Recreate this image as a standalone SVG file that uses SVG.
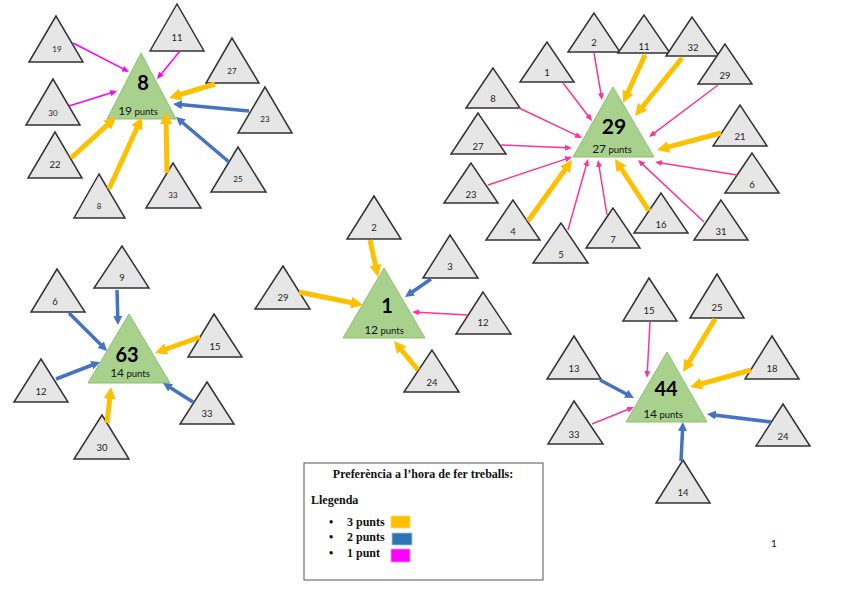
<svg xmlns="http://www.w3.org/2000/svg" width="848" height="599" viewBox="0 0 848 599">
<style>
.t{fill:#E7E6E6;stroke:#333;stroke-width:1.5}
.g{fill:#A9D18E;stroke:#8DBF6E;stroke-width:1}
.lb{font-family:Lato,"Open Sans",sans-serif;font-size:9.5px;text-anchor:middle;fill:#222}
.s{font-size:8px}
.big{font-family:Lato,"Open Sans",sans-serif;font-weight:bold;font-size:20px;text-anchor:middle;fill:#000}
.pt{font-family:Lato,"Open Sans",sans-serif;font-size:9.5px;text-anchor:middle;fill:#111}
.pt tspan{font-size:12px}
.o{stroke:#FFC000;stroke-width:5;marker-end:url(#mo);fill:none}
.b{stroke:#4472C4;stroke-width:3.5;marker-end:url(#mb);fill:none}
.m{stroke:#FF00FF;stroke-width:1.5;marker-end:url(#mm);fill:none}
.p{stroke:#FF3399;stroke-width:1.5;marker-end:url(#mp);fill:none}
.lg{font-family:"Liberation Serif","Times New Roman",serif;font-weight:bold;font-size:12px;fill:#111}
</style>
<defs>
<marker id="mo" markerUnits="userSpaceOnUse" orient="auto" markerWidth="12" markerHeight="12" refX="3" refY="6"><path d="M0,0 L12,6 L0,12 z" fill="#FFC000"/></marker>
<marker id="mb" markerUnits="userSpaceOnUse" orient="auto" markerWidth="9" markerHeight="9" refX="2" refY="4.5"><path d="M0,0 L9,4.5 L0,9 z" fill="#4472C4"/></marker>
<marker id="mm" markerUnits="userSpaceOnUse" orient="auto" markerWidth="7" markerHeight="6" refX="1" refY="3"><path d="M0,0 L7,3 L0,6 z" fill="#FF00FF"/></marker>
<marker id="mp" markerUnits="userSpaceOnUse" orient="auto" markerWidth="7" markerHeight="6" refX="1" refY="3"><path d="M0,0 L7,3 L0,6 z" fill="#FF3399"/></marker>
</defs>
<rect width="848" height="599" fill="#fff"/>

<!-- Cluster 8 -->
<g id="c8-n19"><polygon class="t" points="56,16 29,62 83,62"/><text class="lb s" x="57" y="52">19</text></g>
<g id="c8-n11"><polygon class="t" points="177,4 150,51 204,51"/><text class="lb" x="177" y="41">11</text></g>
<g id="c8-n27"><polygon class="t" points="232,38 206,83 259,83"/><text class="lb s" x="232" y="74">27</text></g>
<g id="c8-n23"><polygon class="t" points="265,87 238,133 292,133"/><text class="lb s" x="265" y="122">23</text></g>
<g id="c8-n25"><polygon class="t" points="238,147 211,192 266,192"/><text class="lb s" x="238" y="182">25</text></g>
<g id="c8-n33"><polygon class="t" points="173,163 146,208 201,208"/><text class="lb s" x="173" y="198">33</text></g>
<g id="c8-n8"><polygon class="t" points="99,174 74,218 125,218"/><text class="lb s" x="99" y="209">8</text></g>
<g id="c8-n22"><polygon class="t" points="55,132 28,178 82,178"/><text class="lb" x="55" y="168">22</text></g>
<g id="c8-n30"><polygon class="t" points="53,79 26,125 80,125"/><text class="lb s" x="53" y="116">30</text></g>
<g id="c8-main"><polygon class="g" points="141,53 107,119 176,119"/><text class="big" x="143" y="90">8</text><text class="pt" x="138" y="115"><tspan>19</tspan> punts</text></g>

<!-- Cluster 29 -->
<g id="c29-n2"><polygon class="t" points="594,13 568,52 620,52"/><text class="lb" x="594" y="46">2</text></g>
<g id="c29-n11"><polygon class="t" points="644,15 618,53 670,53"/><text class="lb" x="644" y="50">11</text></g>
<g id="c29-n32"><polygon class="t" points="692,17 666,56 719,56"/><text class="lb" x="693" y="51">32</text></g>
<g id="c29-n29"><polygon class="t" points="725,44 698,84 752,84"/><text class="lb" x="725" y="79">29</text></g>
<g id="c29-n1"><polygon class="t" points="547,42 520,82 574,82"/><text class="lb" x="547" y="76">1</text></g>
<g id="c29-n8"><polygon class="t" points="493,68 466,108 520,108"/><text class="lb" x="493" y="102">8</text></g>
<g id="c29-n27"><polygon class="t" points="478,113 451,154 506,154"/><text class="lb" x="478" y="150">27</text></g>
<g id="c29-n23"><polygon class="t" points="471,163 444,203 498,203"/><text class="lb" x="471" y="198">23</text></g>
<g id="c29-n4"><polygon class="t" points="513,200 486,240 540,240"/><text class="lb" x="513" y="235">4</text></g>
<g id="c29-n5"><polygon class="t" points="561,223 533,263 588,263"/><text class="lb" x="561" y="258">5</text></g>
<g id="c29-n7"><polygon class="t" points="613,208 586,248 640,248"/><text class="lb" x="613" y="243">7</text></g>
<g id="c29-n16"><polygon class="t" points="661,193 634,233 688,233"/><text class="lb" x="661" y="228">16</text></g>
<g id="c29-n31"><polygon class="t" points="721,200 694,240 748,240"/><text class="lb" x="721" y="235">31</text></g>
<g id="c29-n6"><polygon class="t" points="752,153 725,193 779,193"/><text class="lb" x="752" y="188">6</text></g>
<g id="c29-n21"><polygon class="t" points="740,105 713,146 767,146"/><text class="lb" x="740" y="140">21</text></g>
<g id="c29-main"><polygon class="g" points="613,87 573,157 654,157"/><text class="big" x="614" y="134" style="font-size:21px">29</text><text class="pt" x="612" y="153"><tspan>27</tspan> punts</text></g>

<!-- Cluster 63 -->
<g id="c63-n9"><polygon class="t" points="122,246 94,288 149,288"/><text class="lb" x="122" y="281">9</text></g>
<g id="c63-n6"><polygon class="t" points="57,269 31,312 85,312"/><text class="lb" x="55" y="305">6</text></g>
<g id="c63-n12"><polygon class="t" points="41,359 14,402 68,402"/><text class="lb" x="41" y="395">12</text></g>
<g id="c63-n15"><polygon class="t" points="214,314 188,357 242,357"/><text class="lb" x="215" y="350">15</text></g>
<g id="c63-n33"><polygon class="t" points="207,382 180,424 234,424"/><text class="lb" x="207" y="417">33</text></g>
<g id="c63-n30"><polygon class="t" points="102,415 74,459 129,459"/><text class="lb" x="102" y="451">30</text></g>
<g id="c63-main"><polygon class="g" points="129,314 88,383 170,383"/><text class="big" x="127" y="362">63</text><text class="pt" x="130" y="377"><tspan>14</tspan> punts</text></g>

<!-- Cluster 1 -->
<g id="c1-n2"><polygon class="t" points="374,196 347,239 401,239"/><text class="lb" x="374" y="231">2</text></g>
<g id="c1-n3"><polygon class="t" points="450,235 423,278 478,278"/><text class="lb" x="450" y="270">3</text></g>
<g id="c1-n29"><polygon class="t" points="283,266 255,309 310,309"/><text class="lb" x="283" y="301">29</text></g>
<g id="c1-n12"><polygon class="t" points="483,292 456,334 511,334"/><text class="lb" x="483" y="326">12</text></g>
<g id="c1-n24"><polygon class="t" points="432,350 404,392 459,392"/><text class="lb" x="432" y="386">24</text></g>
<g id="c1-main"><polygon class="g" points="384,268 343,338 425,338"/><text class="big" x="387" y="313">1</text><text class="pt" x="384" y="334"><tspan>12</tspan> punts</text></g>

<!-- Cluster 44 -->
<g id="c44-n15"><polygon class="t" points="649,278 623,321 677,321"/><text class="lb" x="649" y="314">15</text></g>
<g id="c44-n25"><polygon class="t" points="717,274 690,318 744,318"/><text class="lb" x="717" y="311">25</text></g>
<g id="c44-n18"><polygon class="t" points="772,336 745,379 799,379"/><text class="lb" x="772" y="372">18</text></g>
<g id="c44-n13"><polygon class="t" points="574,336 547,379 601,379"/><text class="lb" x="574" y="372">13</text></g>
<g id="c44-n33"><polygon class="t" points="574,401 548,444 603,444"/><text class="lb" x="574" y="438">33</text></g>
<g id="c44-n24"><polygon class="t" points="783,404 756,446 810,446"/><text class="lb" x="783" y="440">24</text></g>
<g id="c44-n14"><polygon class="t" points="683,460 656,503 710,503"/><text class="lb" x="683" y="496">14</text></g>
<g id="c44-main"><polygon class="g" points="667,352 626,422 707,422"/><text class="big" x="666" y="396">44</text><text class="pt" x="663" y="418"><tspan>14</tspan> punts</text></g>

<!-- Connectors -->
<g id="connectors">
<line class="m" x1="73" y1="43" x2="123.7" y2="69.2"/>
<line class="m" x1="180" y1="51" x2="160.8" y2="74.4"/>
<line class="m" x1="69" y1="106" x2="111.3" y2="92.8"/>
<line class="o" x1="215" y1="84" x2="177.6" y2="95.4"/>
<line class="b" x1="249" y1="111" x2="180" y2="104.6"/>
<line class="b" x1="229" y1="162" x2="181.3" y2="121.5"/>
<line class="o" x1="71" y1="158" x2="109.4" y2="123.1"/>
<line class="o" x1="109" y1="189" x2="138.2" y2="125.2"/>
<line class="o" x1="167" y1="173" x2="166.1" y2="121"/>

<line class="p" x1="594" y1="53" x2="601" y2="94.1"/>
<line class="o" x1="645" y1="55" x2="626.8" y2="94.8"/>
<line class="o" x1="682" y1="58" x2="640.7" y2="109"/>
<line class="p" x1="718" y1="85" x2="653.8" y2="133.4"/>
<line class="p" x1="563" y1="83" x2="588.4" y2="116.2"/>
<line class="p" x1="519" y1="108" x2="576.6" y2="135.4"/>
<line class="p" x1="501" y1="145" x2="566" y2="147.7"/>
<line class="p" x1="488" y1="185" x2="566.3" y2="158.9"/>
<line class="o" x1="528" y1="221" x2="566.7" y2="167.3"/>
<line class="p" x1="568" y1="230" x2="586.4" y2="164.8"/>
<line class="p" x1="607" y1="215" x2="599" y2="165.9"/>
<line class="o" x1="649" y1="211" x2="619.9" y2="166.5"/>
<line class="p" x1="704" y1="222" x2="642.4" y2="164.1"/>
<line class="p" x1="737" y1="175" x2="660.9" y2="162.9"/>
<line class="o" x1="721" y1="133" x2="665.7" y2="147.7"/>

<line class="b" x1="117" y1="290" x2="117.8" y2="318"/>
<line class="b" x1="69" y1="313" x2="102.1" y2="346.1"/>
<line class="b" x1="56" y1="379" x2="93.5" y2="364.5"/>
<line class="o" x1="200" y1="337" x2="163.5" y2="350"/>
<line class="b" x1="193" y1="402" x2="168.9" y2="386.7"/>
<line class="o" x1="107" y1="423" x2="110" y2="395.9"/>

<line class="o" x1="370" y1="240" x2="376.1" y2="268.2"/>
<line class="b" x1="431" y1="279" x2="410.8" y2="293"/>
<line class="o" x1="299" y1="292" x2="354.2" y2="303.2"/>
<line class="p" x1="468" y1="315" x2="418" y2="312.3"/>
<line class="o" x1="418" y1="370" x2="399.7" y2="347.9"/>

<line class="p" x1="650" y1="322" x2="647.3" y2="372"/>
<line class="o" x1="715" y1="319" x2="687.7" y2="364.3"/>
<line class="o" x1="751" y1="370" x2="698.7" y2="384.6"/>
<line class="b" x1="600" y1="380" x2="627.8" y2="394.7"/>
<line class="p" x1="592" y1="424" x2="628.4" y2="409.3"/>
<line class="b" x1="771" y1="422" x2="713.9" y2="414.9"/>
<line class="b" x1="681" y1="461" x2="682.6" y2="429"/>
</g>

<!-- Legend -->
<g id="legend">
<rect x="304" y="463" width="239" height="117" fill="#fff" stroke="#555" stroke-width="1"/>
<text class="lg" x="423" y="478" text-anchor="middle">Preferència a l’hora de fer treballs:</text>
<text class="lg" x="311" y="504">Llegenda</text>
<text class="lg" x="331" y="526" text-anchor="middle">•</text>
<text class="lg" x="347" y="526">3 punts</text>
<text class="lg" x="331" y="541" text-anchor="middle">•</text>
<text class="lg" x="347" y="541">2 punts</text>
<text class="lg" x="331" y="557" text-anchor="middle">•</text>
<text class="lg" x="347" y="557">1 punt</text>
<rect x="391" y="516" width="19" height="12" fill="#FFC000" stroke="#FFD966" stroke-width="0.8"/>
<rect x="392" y="533" width="20" height="12" fill="#2E75B6" stroke="#9DC3E6" stroke-width="0.8"/>
<rect x="391" y="549" width="19" height="13" fill="#FF00FF" stroke="#FF99FF" stroke-width="0.8"/>
</g>
<text x="774" y="547" font-family="Lato,'Open Sans',sans-serif" font-size="10" text-anchor="middle" fill="#111">1</text>
</svg>
